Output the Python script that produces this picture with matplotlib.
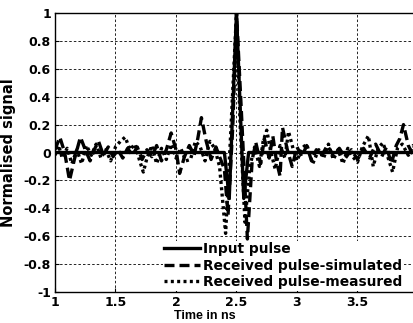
import matplotlib
matplotlib.use("Agg")
import matplotlib.pyplot as plt

# Input pulse
t_input = [1.00, 2.40, 2.44, 2.50, 2.56, 2.60, 4.00]
v_input = [0.00, 0.00, -0.33, 1.00, -0.33, 0.00, 0.00]

# Received pulse - simulated
t_sim = [1.00, 1.04, 1.08, 1.12, 1.16, 1.21, 1.25, 1.29, 1.33, 1.36, 1.40, 1.44, 1.48,
         1.52, 1.56, 1.60, 1.64, 1.68, 1.72, 1.76, 1.80, 1.84, 1.88, 1.92, 1.96, 2.00,
         2.03, 2.07, 2.11, 2.15, 2.18, 2.21, 2.25, 2.29, 2.33, 2.36, 2.40, 2.43, 2.47,
         2.50, 2.54, 2.59, 2.63, 2.66, 2.70, 2.73, 2.77, 2.80, 2.83, 2.86, 2.88, 2.92,
         2.96, 3.00, 3.04, 3.08, 3.12, 3.16, 3.20, 3.25, 3.30, 3.35, 3.40, 3.45, 3.50,
         3.55, 3.60, 3.65, 3.70, 3.74, 3.78, 3.82, 3.85, 3.88, 3.92, 3.96, 4.00]
v_sim = [0.02, 0.11, 0.00, -0.20, -0.05, 0.11, 0.02, -0.06, 0.03, 0.08, -0.02, 0.04, -0.03,
         0.02, -0.04, 0.03, -0.02, 0.04, -0.05, 0.02, -0.03, 0.05, -0.06, 0.02, 0.14, 0.02,
         -0.15, -0.03, 0.05, -0.02, 0.10, 0.25, 0.08, -0.05, 0.04, -0.03, -0.12, -0.45, 0.20,
         1.00, 0.30, -0.62, -0.05, 0.07, -0.08, 0.10, -0.04, 0.12, -0.06, -0.17, 0.18, 0.02,
         -0.10, 0.04, -0.03, 0.05, -0.06, 0.02, -0.03, 0.05, -0.02, 0.03, -0.04, 0.02, -0.05,
         0.03, -0.04, 0.06, -0.03, 0.04, -0.08, 0.05, 0.10, 0.20, 0.05, -0.02, 0.01]

# Received pulse - measured
t_meas = [1.00, 1.03, 1.06, 1.10, 1.14, 1.18, 1.22, 1.26, 1.30, 1.34, 1.38, 1.42, 1.46,
          1.50, 1.54, 1.58, 1.62, 1.66, 1.70, 1.73, 1.76, 1.80, 1.84, 1.88, 1.92, 1.96,
          2.00, 2.04, 2.08, 2.12, 2.16, 2.20, 2.24, 2.28, 2.32, 2.36, 2.41, 2.45, 2.50,
          2.53, 2.57, 2.61, 2.65, 2.69, 2.72, 2.75, 2.78, 2.82, 2.86, 2.90, 2.93, 2.97,
          3.00, 3.04, 3.08, 3.13, 3.18, 3.22, 3.26, 3.30, 3.34, 3.38, 3.42, 3.46, 3.50,
          3.54, 3.59, 3.63, 3.67, 3.71, 3.75, 3.79, 3.83, 3.87, 3.92, 3.96, 4.00]
v_meas = [-0.02, 0.05, -0.04, 0.03, -0.08, 0.02, -0.08, 0.05, -0.02, 0.06, -0.04, 0.02, -0.06,
          0.04, 0.08, 0.11, 0.02, 0.06, -0.06, -0.14, -0.04, 0.05, -0.08, 0.03, -0.05, 0.06,
          -0.04, 0.03, -0.06, -0.05, 0.08, 0.04, -0.06, 0.08, 0.03, -0.10, -0.58, 0.10, 1.00,
          0.20, -0.50, -0.10, 0.04, -0.10, 0.08, 0.16, 0.02, -0.12, 0.05, -0.04, 0.15, 0.02,
          -0.06, 0.03, 0.06, -0.08, 0.02, -0.04, 0.06, -0.05, 0.02, -0.08, 0.03, -0.03, -0.07,
          0.04, 0.12, -0.10, 0.03, 0.07, -0.03, -0.14, 0.03, 0.06, -0.02, 0.05, 0.00]

x_ticks = [1, 1.5, 2, 2.5, 3, 3.5, 4]
x_tick_labels = ["1", "1.5", "2", "2.5", "3", "3.5", "4"]
y_ticks = [-1, -0.8, -0.6, -0.4, -0.2, 0, 0.2, 0.4, 0.6, 0.8, 1]
y_tick_labels = ["-1", "-0.8", "-0.6", "-0.4", "-0.2", "0", "0.2", "0.4", "0.6", "0.8", "1"]

plt.rcParams['font.family'] = ['DejaVu Sans']
plt.rcParams['font.weight'] = 'bold'

W, H = 414, 323
fig = plt.figure(figsize=(W / 100, H / 100), dpi=100)
ax = fig.add_axes([55 / W, (H - 292) / H, 363 / W, 279 / H])

ax.plot(t_input, v_input, color='black', lw=2.4, linestyle='-', label='Input pulse')
ax.plot(t_sim, v_sim, color='black', lw=2.4, linestyle=(0, (3.0, 1.5)), label='Received pulse-simulated')
ax.plot(t_meas, v_meas, color='black', lw=2.4, linestyle=(0, (0.9, 1.0)), label='Received pulse-measured')

ax.set_xlim(1, 4)
ax.set_ylim(-1, 1)
ax.set_xticks(x_ticks)
ax.set_xticklabels(x_tick_labels, fontsize=9, fontweight='bold')
ax.set_yticks(y_ticks)
ax.set_yticklabels(y_tick_labels, fontsize=9, fontweight='bold')
ax.tick_params(direction='in', length=3, width=0.8, pad=3)
ax.grid(True, color='black', linestyle=(0, (3, 2.5)), linewidth=0.6)
for s in ax.spines.values():
    s.set_linewidth(1.0)

ax.set_xlabel('Time in ns', fontsize=9, fontweight='bold', family='Liberation Sans')
ax.xaxis.set_label_coords((205 - 55) / 363, -0.064)
ax.set_ylabel('Normalised signal', fontsize=10.5, fontweight='bold')
ax.yaxis.set_label_coords((16 - 55) / 363, 0.5)

leg = ax.legend(loc='lower left', bbox_to_anchor=(0.294, 0.0),
                frameon=True, fancybox=False, edgecolor='none',
                facecolor='white', framealpha=1.0, borderpad=0.1,
                handlelength=2.6, handletextpad=0.2, labelspacing=0.18,
                borderaxespad=0.1, prop={'weight': 'bold', 'size': 9.9, 'family': 'DejaVu Sans'})

fig.savefig('out.png', dpi=100)
